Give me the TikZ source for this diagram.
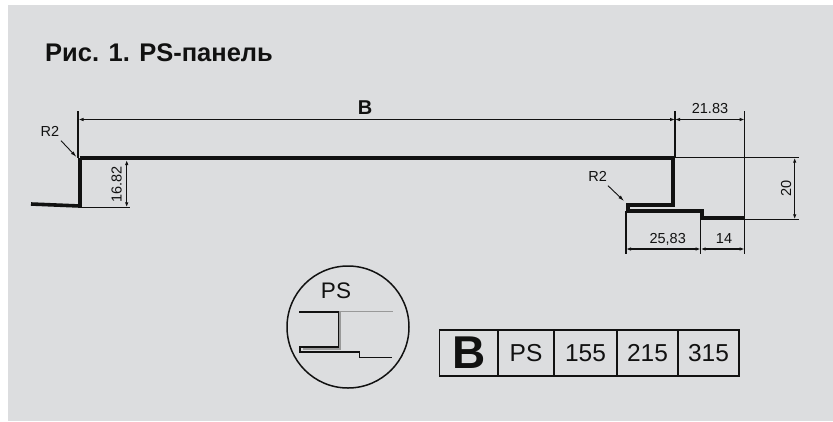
\documentclass[tikz,border=0pt]{standalone}
\usepackage{fontspec}
\setmainfont{Liberation Sans}
\usetikzlibrary{arrows.meta}
\definecolor{panel}{HTML}{DCDDDF}
\definecolor{ink}{HTML}{111111}
\tikzset{
 x=1pt,y=-1pt,
 profile/.style={line width=4pt,draw=ink,line join=miter},
 thin dim/.style={line width=1.4pt,draw=ink},
 dimarrow/.style={line width=1.3pt,draw=ink,{Latex[length=5pt,width=3.5pt]}-{Latex[length=5pt,width=3.5pt]}},
 leader/.style={line width=.9pt,draw=ink,-{Latex[length=6pt,width=3.5pt]}},
 lab/.style={font=\fontsize{14.5}{16}\selectfont,text=ink,inner sep=0pt},
 cell/.style={draw=ink,line width=1.6pt,minimum height=46pt,inner sep=0pt,outer sep=0pt,anchor=west,text=ink,font=\fontsize{24.5}{26}\selectfont},
}
\begin{document}
\begin{tikzpicture}
\useasboundingbox (0,0) rectangle (833,421);
\fill[white] (0,0) rectangle (833,421);
\fill[panel] (8,5) rectangle (833,421);
\node[anchor=west,inner sep=0pt,font=\bfseries\fontsize{25.5}{28}\selectfont,text=ink] (title) at (45,53) {Рис. 1. PS-панель};
% main profile
\coordinate (a0) at (31,204);
\coordinate (a1) at (79.7,206);
\coordinate (a2) at (79.7,158.3);
\coordinate (a3) at (673.3,158.3);
\coordinate (a4) at (673.3,204.7);
\coordinate (a5) at (627.5,204.7);
\coordinate (a6) at (627.5,211.3);
\coordinate (a7) at (702.3,211.3);
\coordinate (a8) at (702.3,217.5);
\coordinate (a9) at (745,217.5);
\draw[profile,line width=3.6pt] (a0) -- (a1);
\draw[profile] (a1) ++(0,2) -- (a2);
\draw[profile] (a2) -- (a3) -- (a4) -- (a5) -- (a6) -- (a7) -- (a8) -- (a9);
% extension lines
\coordinate (e1t) at (78,111);
\coordinate (e2t) at (675,111);
\coordinate (e3t) at (744.7,111);
\coordinate (e3b) at (744.7,254.3);
\coordinate (e4b) at (626,254.3);
\coordinate (e5b) at (700.7,254.3);
\coordinate (e6r) at (799,157.7);
\coordinate (e7r) at (799,219.3);
\coordinate (e8r) at (130,207.3);
\coordinate (e6l) at (673.3,157.7);
\coordinate (e7l) at (745,219.3);
\coordinate (e4t) at (626,211);
\coordinate (e5t) at (700.7,213);
\coordinate (e8l) at (80,207.3);
\coordinate (e1b) at (78,158);
\coordinate (e2b) at (675,158);
\draw[thin dim] (e1t) -- (e1b);
\draw[thin dim] (e2t) -- (e2b);
\draw[thin dim] (e3t) -- (e3b);
\draw[thin dim] (e6l) -- (e6r);
\draw[thin dim] (e7l) -- (e7r);
\draw[thin dim] (e4t) -- (e4b);
\draw[thin dim] (e5t) -- (e5b);
\draw[thin dim] (e8l) -- (e8r);
% dimensions
\coordinate (b1) at (78.5,119.5);
\coordinate (b2) at (675,119.5);
\coordinate (b3) at (744.7,119.5);
\draw[dimarrow] (b1) -- (b2);
\draw[dimarrow] (b2) -- (b3);
\node[inner sep=0pt,font=\bfseries\fontsize{20}{22}\selectfont,text=ink] (blab) at (365,107.5) {B};
\node[lab] (l2183) at (710,109) {21.83};
\coordinate (c1) at (626,249);
\coordinate (c2) at (700.7,249);
\coordinate (c3) at (744.7,249);
\draw[dimarrow] (c1) -- (c2);
\draw[dimarrow] (c2) -- (c3);
\node[lab] (l2583) at (667.7,239) {25,83};
\node[lab] (l14) at (724,239) {14};
\coordinate (d1) at (794.7,157.7);
\coordinate (d2) at (794.7,219.3);
\draw[dimarrow] (d1) -- (d2);
\node[lab,rotate=90] (l20) at (786,188.7) {20};
\coordinate (f1) at (126.7,160);
\coordinate (f2) at (126.7,207.3);
\draw[dimarrow] (f1) -- (f2);
\node[lab,rotate=90] (l1682) at (116.7,184.3) {16.82};
% R2 leaders
\node[lab] (r1) at (50,131.7) {R2};
\node[lab] (r2) at (597.7,176) {R2};
\coordinate (r1s) at (61,140.7);
\coordinate (r2s) at (608,185.7);
\coordinate (r1e) at (76.5,157);
\coordinate (r2e) at (624,201);
\draw[leader] (r1s) -- (r1e);
\draw[leader] (r2s) -- (r2e);
% circle icon
\node[draw=ink,line width=1.5pt,circle,minimum size=122pt,inner sep=0pt,outer sep=0pt] (circ) at (348,327) {};
\node[inner sep=0pt,font=\fontsize{22.5}{24}\selectfont,text=ink] (ps) at (336,290.7) {PS};
\draw[draw=black!40,line width=1.8pt] (340,311.4) -- (392.7,311.4);
\draw[draw=black!40,line width=2.6pt] (340,311.4) -- (340,349) -- (303,349);
\draw[ink,line width=1.6pt] (299.3,311.7) -- (338.3,311.7) -- (338.3,346.7) -- (300,346.7) -- (300,351.7) -- (359.3,351.7) -- (359.3,357.3) -- (392.3,357.3);
% table
\node[cell,minimum width=58.5pt,font=\bfseries\fontsize{46}{48}\selectfont] (tb) at (439.5,353) {B};
\node[cell,minimum width=56pt] (tps) at (tb.east) {PS};
\node[cell,minimum width=63pt] (t155) at (tps.east) {155};
\node[cell,minimum width=61pt] (t215) at (t155.east) {215};
\node[cell,minimum width=61pt] (t315) at (t215.east) {315};
\end{tikzpicture}
\end{document}
